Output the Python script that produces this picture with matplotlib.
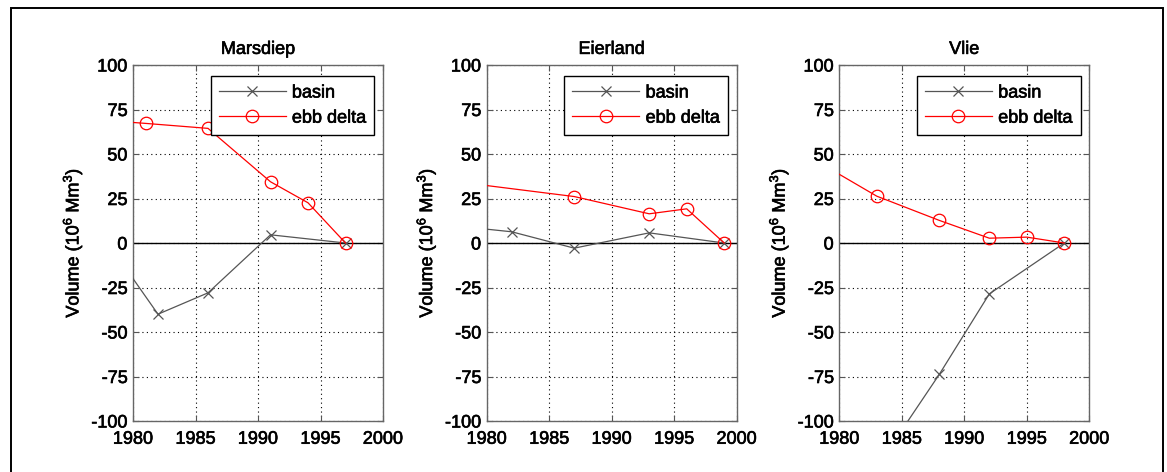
import matplotlib
matplotlib.use("Agg")
import matplotlib.pyplot as plt
from matplotlib.patches import Rectangle
import matplotlib.patheffects as pe

plt.rcParams['font.family'] = ['Liberation Sans', 'DejaVu Sans']
plt.rcParams['axes.unicode_minus'] = False
plt.rcParams['mathtext.fontset'] = 'custom'
plt.rcParams['mathtext.rm'] = 'Liberation Sans'
plt.rcParams['mathtext.it'] = 'Liberation Sans'

# Inlet names
inlets = ["Marsdiep", "Eierland", "Vlie"]

# Cumulative volume change (Mm^3), relative to the last survey
marsdiep_basin_years = [1977, 1982, 1986, 1991, 1997]
marsdiep_basin_vol = [10, -40, -28, 4.6, 0]
marsdiep_delta_years = [1976, 1981, 1986, 1991, 1994, 1997]
marsdiep_delta_vol = [69.8, 67.2, 64.4, 34.4, 22.6, 0]

eierland_basin_years = [1976, 1982, 1987, 1993, 1999]
eierland_basin_vol = [10.7, 6.3, -2.9, 5.7, 0]
eierland_delta_years = [1976, 1987, 1993, 1996, 1999]
eierland_delta_vol = [35.8, 26.1, 16.4, 19.2, 0]

vlie_basin_years = [1983, 1988, 1992, 1998]
vlie_basin_vol = [-126, -73.8, -28.6, 0]
vlie_delta_years = [1976, 1983, 1988, 1992, 1995, 1998]
vlie_delta_vol = [55, 26.3, 12.7, 2.7, 3.3, 0]

basin_series = [(marsdiep_basin_years, marsdiep_basin_vol),
                (eierland_basin_years, eierland_basin_vol),
                (vlie_basin_years, vlie_basin_vol)]
delta_series = [(marsdiep_delta_years, marsdiep_delta_vol),
                (eierland_delta_years, eierland_delta_vol),
                (vlie_delta_years, vlie_delta_vol)]

x_ticks = [1980, 1985, 1990, 1995, 2000]
y_ticks = [-100, -75, -50, -25, 0, 25, 50, 75, 100]

W, H = 1167, 472
fig = plt.figure(figsize=(W / 100, H / 100), dpi=100)

# Figure frame (open at the bottom)
fig.patches.append(Rectangle((10.5 / W, -0.05), (1163.3 - 10.5) / W, 1.05 - 8.3 / H,
                             transform=fig.transFigure, fill=False,
                             edgecolor='black', linewidth=1.4))

lefts = [133, 486.7, 839.3]
fs = 13
basin_color = '#555555'
delta_color = '#ff0000'
heavy = [pe.withStroke(linewidth=0.45, foreground='black')]

for i, name in enumerate(inlets):
    ax = fig.add_axes([lefts[i] / W, (H - 421) / H, 250 / W, 356 / H])
    ax.axhline(0, color='black', linewidth=1.0, zorder=2)
    bx, by = basin_series[i]
    dx, dy = delta_series[i]
    ax.plot(bx, by, color=basin_color, linewidth=0.9, marker='x',
            markersize=7, markeredgewidth=0.9, label='basin', zorder=3)
    ax.plot(dx, dy, color=delta_color, linewidth=0.9, marker='o',
            markersize=9, markerfacecolor='none', markeredgewidth=0.9,
            label='ebb delta', zorder=3)
    ax.set_xlim(1980, 2000)
    ax.set_ylim(-100, 100)
    ax.set_xticks(x_ticks)
    ax.set_yticks(y_ticks)
    ax.grid(True, linestyle=(0, (1, 3)), color='black', linewidth=0.8)
    ax.tick_params(direction='in', top=True, right=True, length=4,
                   width=0.8, color='#555555', labelsize=fs)
    ax.tick_params(axis='x', pad=7)
    ax.tick_params(axis='y', pad=4)
    for sp in ax.spines.values():
        sp.set_color('#666666')
        sp.set_linewidth(1.0)
    title = ax.set_title(name, fontsize=fs, pad=8)
    ylab = ax.set_ylabel('Volume (10$^6$ Mm$^3$)', fontsize=fs, labelpad=5)
    leg = ax.legend(loc='upper right', bbox_to_anchor=(0.965, 0.968),
                    fontsize=fs, handlelength=3.7, handletextpad=0.35,
                    borderpad=0.45, labelspacing=0.45, borderaxespad=0,
                    fancybox=False, framealpha=1, edgecolor='black')
    leg.get_frame().set_linewidth(1.0)
    texts = [title, ylab] + leg.get_texts() + ax.get_xticklabels() + ax.get_yticklabels()
    for t in texts:
        t.set_path_effects(heavy)

fig.savefig('out.png', dpi=100)
